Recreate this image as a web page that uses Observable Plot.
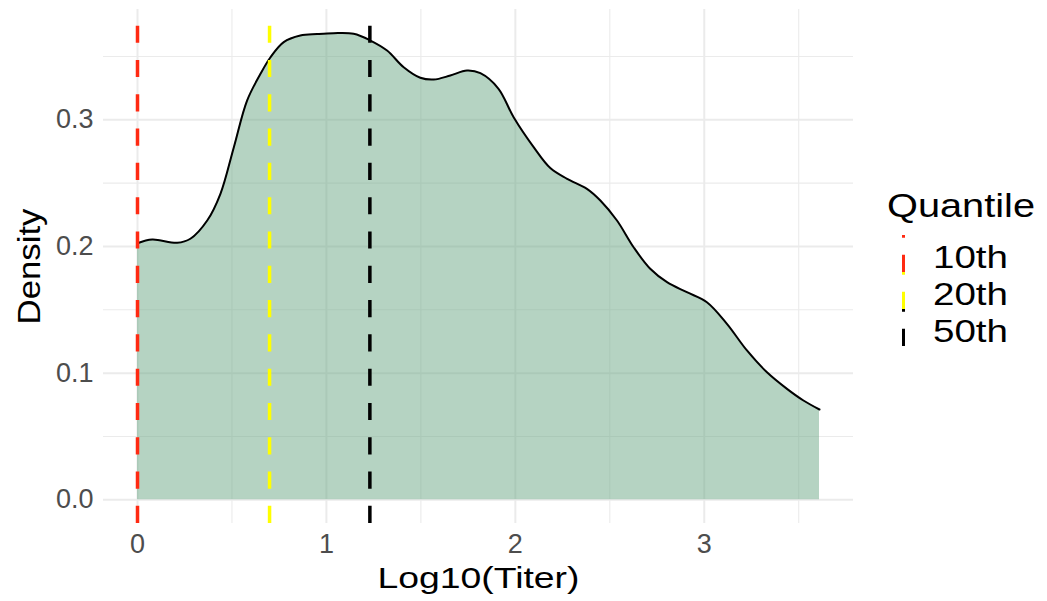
<!DOCTYPE html>
<html>
<head>
<meta charset="utf-8">
<script src="https://cdn.jsdelivr.net/npm/d3@7"></script>
<script src="https://cdn.jsdelivr.net/npm/@observablehq/plot@0.6"></script>
<style>
  html, body { margin: 0; padding: 0; background: #fff; }
  #chart { width: 1047px; height: 601px; }
</style>
</head>
<body>
<div id="chart"></div>
<script>
// Density estimate of log10 titers
const titer = [0, 0.078, 0.210, 0.280, 0.369, 0.439, 0.510, 0.580, 0.651, 0.704, 0.774, 0.862, 0.951,
  1.039, 1.144, 1.233, 1.321, 1.409, 1.497, 1.568, 1.656, 1.744, 1.815, 1.910, 1.991, 2.097, 2.185,
  2.274, 2.379, 2.450, 2.538, 2.626, 2.714, 2.803, 2.908, 3.014, 3.120, 3.226, 3.332, 3.438, 3.525, 3.610];
const density = [0.2026, 0.2055, 0.2029, 0.2061, 0.2205, 0.2416, 0.2784, 0.3152, 0.3363, 0.3494, 0.3613, 0.3665, 0.3677,
  0.3684, 0.3679, 0.3626, 0.3547, 0.3415, 0.3332, 0.3318, 0.3350, 0.3389, 0.3368, 0.3247, 0.3020, 0.2784, 0.2619,
  0.2534, 0.2455, 0.2363, 0.2205, 0.1994, 0.1824, 0.1718, 0.1639, 0.1560, 0.1389, 0.1179, 0.1007, 0.0876, 0.0784, 0.0713];

// Quantile markers
const quantileNames = ["10th", "20th", "50th"];
const quantileValues = [0, 0.699, 1.23];
const quantileColors = ["#ff2a12", "#ffff00", "#000000"];

// Axis ticks
const xTicks = [0, 1, 2, 3];
const xMinor = [0.5, 1.5, 2.5, 3.5];
const yTicks = [0, 0.1, 0.2, 0.3];
const yMinor = [0.05, 0.15, 0.25, 0.35];

const xDomain = [-0.180, 3.790];
const yDomain = [-0.0187, 0.3871];

const points = titer.map((t, i) => ({titer: t, density: density[i]}));
const quantiles = quantileNames.map((q, i) => ({
  name: q, value: quantileValues[i], color: quantileColors[i], lo: yDomain[0], hi: yDomain[1]
}));

const FONT = "'Liberation Sans', Arial, Helvetica, sans-serif";
const DASH = "17.15,17.15";

const chart = Plot.plot({
  width: 1047,
  height: 601,
  marginLeft: 103,
  marginRight: 194,
  marginTop: 9,
  marginBottom: 78,
  style: {fontFamily: FONT, fontSize: "27px", background: "#fff"},
  x: {domain: xDomain},
  y: {domain: yDomain},
  marks: [
    Plot.gridX(xMinor, {stroke: "#ebebeb", strokeOpacity: 1, strokeWidth: 1.1}),
    Plot.gridY(yMinor, {stroke: "#ebebeb", strokeOpacity: 1, strokeWidth: 1.1}),
    Plot.gridX(xTicks, {stroke: "#ebebeb", strokeOpacity: 1, strokeWidth: 2}),
    Plot.gridY(yTicks, {stroke: "#ebebeb", strokeOpacity: 1, strokeWidth: 2}),
    Plot.axisX(xTicks, {tickSize: 0, tickPadding: 10, color: "#4d4d4d", fontSize: 27, label: null,
      tickFormat: d3.format("d")}),
    Plot.axisY(yTicks, {tickSize: 0, tickPadding: 10, color: "#4d4d4d", fontSize: 27, label: null,
      tickFormat: d3.format(".1f")}),
    Plot.areaY(points, {x: "titer", y: "density", fill: "#6ba785", fillOpacity: 0.5, curve: "catmull-rom"}),
    Plot.lineY(points, {x: "titer", y: "density", stroke: "#000", strokeWidth: 2, curve: "catmull-rom"}),
    // rules run bottom-to-top so the dash pattern starts at the panel floor
    Plot.ruleX(quantiles, {x: "value", y1: "lo", y2: "hi", stroke: "color", strokeWidth: 3.5,
      strokeDasharray: DASH}),
    Plot.text(["Log10(Titer)"], {text: d => d, frameAnchor: "bottom", textAnchor: "middle",
      lineAnchor: "middle", dy: 55, fontSize: 30, fill: "#000"}),
    Plot.text(["Density"], {text: d => d, frameAnchor: "left", textAnchor: "middle",
      lineAnchor: "middle", rotate: -90, dx: -73, fontSize: 31, fill: "#000"})
  ]
});

// Wide title lettering
const titleWidths = {"Log10(Titer)": 202, "Density": 116};
d3.select(chart).selectAll("text").each(function() {
  const w = titleWidths[this.textContent];
  if (w) {
    this.setAttribute("textLength", w);
    this.setAttribute("lengthAdjust", "spacingAndGlyphs");
  }
});

// Legend for the quantile lines
const legend = d3.select(chart).append("g")
  .attr("font-family", FONT)
  .attr("text-anchor", "start")
  .attr("fill", "#000");

legend.append("text")
  .attr("x", 887).attr("y", 217)
  .attr("font-size", 34)
  .attr("textLength", 148).attr("lengthAdjust", "spacingAndGlyphs")
  .text("Quantile");

const keyTop = 235, keyH = 37;
quantiles.forEach((q, i) => {
  const top = keyTop + i * keyH;
  legend.append("line")
    .attr("x1", 903.5).attr("x2", 903.5)
    .attr("y1", top + keyH).attr("y2", top)
    .attr("stroke", q.color).attr("stroke-width", 3)
    .attr("stroke-dasharray", DASH);
  legend.append("text")
    .attr("x", 933).attr("y", top + keyH / 2 + 14)
    .attr("font-size", 32)
    .attr("textLength", 75).attr("lengthAdjust", "spacingAndGlyphs")
    .text(q.name);
});

document.getElementById("chart").appendChild(chart);
</script>
</body>
</html>
